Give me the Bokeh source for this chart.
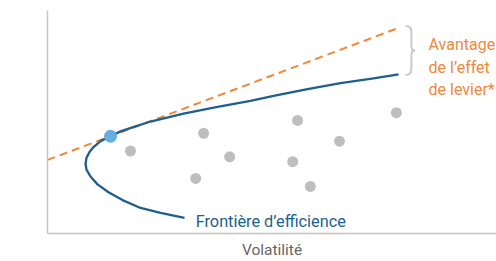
from bokeh.plotting import figure
from bokeh.models import Label, FixedTicker
from bokeh.embed import file_html
from bokeh.resources import INLINE

# ---- data (volatility / expected return, arbitrary units 0-100) ----
frontier_vol = [31.07, 25.62, 21.09, 17.01, 13.83, 11.34, 9.75, 8.84, 8.62, 8.84, 9.52,
                10.43, 12.02, 14.29, 16.55, 19.95, 23.36, 30.84, 38.55, 46.03, 51.25,
                58.96, 66.44, 73.92, 79.59]
frontier_ret = [7.05, 9.25, 11.45, 14.98, 18.50, 22.03, 25.55, 28.63, 31.28, 33.92, 36.56,
                38.77, 41.41, 43.61, 45.81, 48.02, 50.22, 53.74, 56.83, 59.47, 61.67,
                64.76, 67.40, 69.60, 71.37]
asset_vol = [18.8, 35.4, 41.3, 33.6, 56.7, 66.2, 55.6, 59.6, 79.1]
asset_ret = [37.0, 44.9, 34.4, 24.7, 50.7, 41.4, 32.2, 21.1, 54.2]
tangent_vol = [14.29]
tangent_ret = [43.6]
cml_vol = [0.0, 80.0]
cml_ret = [33.0, 92.5]
frontier_label = "Frontière d’efficience"
leverage_lines = ["Avantage", "de l’effet", "de levier*"]
x_title = "Volatilité"
y_title = "Rendement prévu"

FONT = "Roboto"
BLUE = "#1d5f8d"
ORANGE = "#f0883c"
GRAY_DOT = "#bebec1"
LIGHT_BLUE = "#68ade0"
AXIS = "#c4c4c4"
TEXT_GRAY = "#666666"

p = figure(width=496, height=261, x_range=(0, 101.8), y_range=(0, 100),
           output_backend="svg", toolbar_location=None,
           min_border_left=47, min_border_right=0, min_border_top=10, min_border_bottom=24)
p.grid.visible = False
p.outline_line_color = None
for ax in (p.xaxis[0], p.yaxis[0]):
    ax.ticker = FixedTicker(ticks=[])
    ax.major_label_text_font_size = "0px"
    ax.major_label_standoff = 0
    ax.major_tick_out = 0
    ax.major_tick_in = 0
    ax.major_tick_line_color = None
    ax.minor_tick_line_color = None
    ax.axis_line_color = AXIS
    ax.axis_line_width = 1.5

p.xaxis.axis_label = x_title
p.xaxis.axis_label_text_font = FONT
p.xaxis.axis_label_text_font_size = "15.5px"
p.xaxis.axis_label_text_font_style = "normal"
p.xaxis.axis_label_text_color = TEXT_GRAY
p.xaxis.axis_label_standoff = 7

# capital market line (dashed)
p.line(cml_vol, cml_ret, line_color=ORANGE, line_width=2, line_dash="8 5")
# efficient frontier
p.line(frontier_vol, frontier_ret, line_color=BLUE, line_width=2.3, line_join="round")
# individual assets
p.scatter(asset_vol, asset_ret, size=11, fill_color=GRAY_DOT, line_color=None)
# tangency portfolio
p.scatter(tangent_vol, tangent_ret, size=13, fill_color=LIGHT_BLUE, line_color=None)

# brace between the two line ends
x0 = cml_vol[-1] + 1.2
xv = cml_vol[-1] + 2.5
xt = cml_vol[-1] + 3.3
yt = cml_ret[-1] + 0.5
yb = frontier_ret[-1] - 0.3
ym = (yt + yb) / 2
bk = dict(line_color="#c9c9c9", line_width=2)
p.quadratic(x0=[x0], y0=[yt], x1=[xv], y1=[yt - 2.6], cx=[xv], cy=[yt], **bk)
p.segment(x0=[xv], y0=[yt - 2.6], x1=[xv], y1=[ym + 2.2], **bk)
p.quadratic(x0=[xv], y0=[ym + 2.2], x1=[xt], y1=[ym], cx=[xv], cy=[ym], **bk)
p.quadratic(x0=[xt], y0=[ym], x1=[xv], y1=[ym - 2.2], cx=[xv], cy=[ym], **bk)
p.segment(x0=[xv], y0=[ym - 2.2], x1=[xv], y1=[yb + 2.6], **bk)
p.quadratic(x0=[xv], y0=[yb + 2.6], x1=[x0], y1=[yb], cx=[xv], cy=[yb], **bk)

# annotations
for i, line in enumerate(leverage_lines):
    p.add_layout(Label(x=86.4, y=84.6 - i * 10.0, text=line, text_font=FONT,
                       text_font_size="16px", text_color=ORANGE,
                       text_baseline="alphabetic"))
p.add_layout(Label(x=33.6, y=5.3, text=frontier_label, text_font=FONT,
                   text_font_size="16.3px", text_color=BLUE, text_baseline="alphabetic"))
p.add_layout(Label(x=-3.8, y=52.9, text=y_title, text_font=FONT, text_font_size="15.5px",
                   text_color=TEXT_GRAY, text_align="center", text_baseline="middle",
                   angle=90, angle_units="deg"))

open("out.html", "w").write(file_html(p, INLINE))
